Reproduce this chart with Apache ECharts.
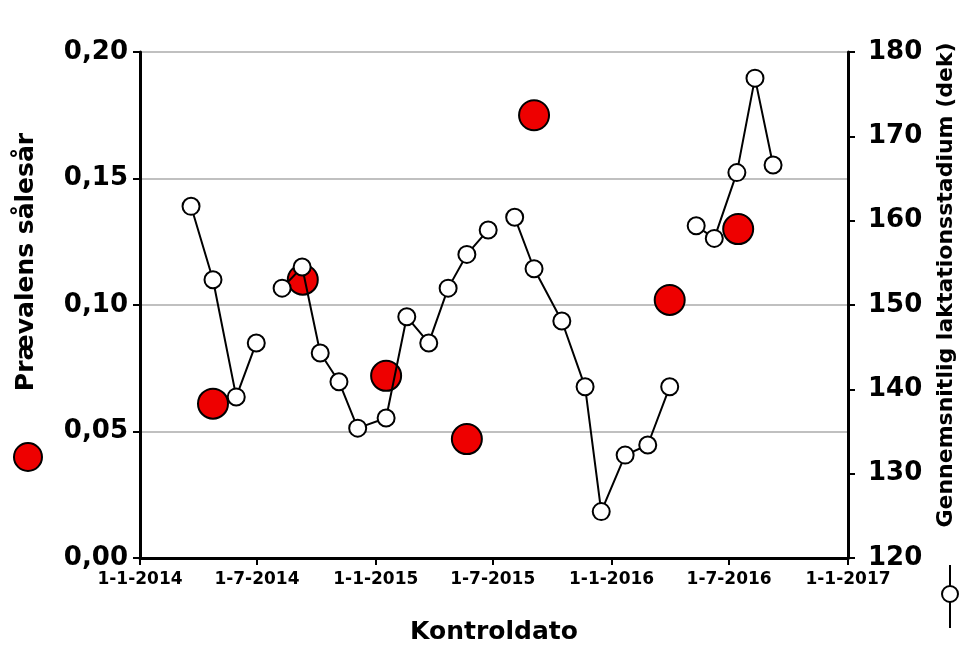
<!DOCTYPE html>
<html>
<head>
<meta charset="utf-8">
<script src="https://cdn.jsdelivr.net/npm/echarts@6/dist/echarts.min.js"></script>
<style>
html, body { margin: 0; padding: 0; background: #fff; }
#chart { width: 968px; height: 654px; }
</style>
</head>
<body>
<div id="chart"></div>
<script>
// Prævalens sålesår (left axis), red dots
var ulcerDates = ['2014-04-24', '2014-09-10', '2015-01-17', '2015-05-22', '2015-09-03', '2016-03-31', '2016-07-15'];
var ulcerValues = [0.061, 0.110, 0.072, 0.047, 0.175, 0.102, 0.130];

// Gennemsnitlig laktationsstadium (right axis), open circles
var lacDates = [
    '2014-03-21', '2014-04-24', '2014-05-30', '2014-06-30',
    '2014-08-09', '2014-09-09', '2014-10-07', '2014-11-05', '2014-12-04', '2015-01-17',
    '2015-02-18', '2015-03-24', '2015-04-23', '2015-05-22', '2015-06-24',
    '2015-08-04', '2015-09-03', '2015-10-16', '2015-11-21', '2015-12-16', '2016-01-22',
    '2016-02-26', '2016-03-31',
    '2016-05-11', '2016-06-08', '2016-07-13', '2016-08-10', '2016-09-07'
];
var lacValues = [
    161.7, 153.0, 139.1, 145.5,
    152.0, 154.5, 144.3, 140.9, 135.4, 136.6,
    148.6, 145.5, 152.0, 156.0, 158.9,
    160.4, 154.3, 148.1, 140.3, 125.5, 132.2,
    133.4, 140.3,
    159.4, 157.9, 165.7, 176.9, 166.6
];
// line is broken before these indices
var lacBreaks = [4, 15, 23];

var xTicks = ['2014-01-01', '2014-07-01', '2015-01-01', '2015-07-01', '2016-01-01', '2016-07-01', '2017-01-01'];

// days since 1-1-2014
function toDay(s) {
    var p = s.split('-');
    return Math.round((Date.UTC(+p[0], +p[1] - 1, +p[2]) - Date.UTC(2014, 0, 1)) / 86400000);
}
function dayLabel(v) {
    var d = new Date(Date.UTC(2014, 0, 1) + v * 86400000);
    return d.getUTCDate() + '-' + (d.getUTCMonth() + 1) + '-' + d.getUTCFullYear();
}

var chart = echarts.init(document.getElementById('chart'));

var segments = [];
var start = 0;
lacBreaks.concat([lacDates.length]).forEach(function (end) {
    var seg = [];
    for (var i = start; i < end; i++) {
        seg.push([toDay(lacDates[i]), lacValues[i]]);
    }
    segments.push(seg);
    start = end;
});

var font = 'DejaVu Sans';
var tickDays = xTicks.map(toDay);

var series = [{
    name: 'Prævalens sålesår',
    type: 'scatter',
    yAxisIndex: 0,
    symbol: 'circle',
    symbolSize: 30,
    z: 2,
    itemStyle: { color: '#ee0000', borderColor: '#000', borderWidth: 2, opacity: 1 },
    data: ulcerDates.map(function (d, i) { return [toDay(d), ulcerValues[i]]; })
}];

segments.forEach(function (seg) {
    series.push({
        name: 'Gennemsnitlig laktationsstadium',
        type: 'line',
        yAxisIndex: 1,
        symbol: 'circle',
        symbolSize: 17,
        showAllSymbol: true,
        z: 3,
        lineStyle: { color: '#000', width: 2 },
        itemStyle: { color: '#fff', borderColor: '#000', borderWidth: 2 },
        data: seg
    });
});

chart.setOption({
    animation: false,
    backgroundColor: '#fff',
    grid: { left: 140, right: 120, top: 52, bottom: 96 },
    xAxis: {
        type: 'value',
        min: tickDays[0],
        max: tickDays[tickDays.length - 1],
        name: 'Kontroldato',
        nameLocation: 'middle',
        nameGap: 62,
        nameTextStyle: { fontFamily: font, fontWeight: 'bold', fontSize: 25, color: '#000' },
        axisLine: { lineStyle: { color: '#000', width: 3 } },
        axisTick: { show: true, length: 7, lineStyle: { color: '#000', width: 2 }, customValues: tickDays },
        splitLine: { show: false },
        axisLabel: {
            customValues: tickDays,
            fontFamily: font, fontWeight: 'bold', fontSize: 17, color: '#000', margin: 13,
            formatter: dayLabel
        }
    },
    yAxis: [{
        type: 'value',
        min: 0,
        max: 0.2,
        interval: 0.05,
        axisLine: { show: true, lineStyle: { color: '#000', width: 3 } },
        axisTick: { show: true, length: 7, lineStyle: { color: '#000', width: 2 } },
        splitLine: { show: true, lineStyle: { color: '#c0c0c0', width: 2 } },
        axisLabel: {
            fontFamily: font, fontWeight: 'bold', fontSize: 26, color: '#000', margin: 12,
            formatter: function (v) { return v.toFixed(2).replace('.', ','); }
        }
    }, {
        type: 'value',
        position: 'right',
        min: 120,
        max: 180,
        interval: 10,
        axisLine: { show: true, lineStyle: { color: '#000', width: 3 } },
        axisTick: { show: true, length: 7, lineStyle: { color: '#000', width: 2 } },
        splitLine: { show: false },
        axisLabel: { fontFamily: font, fontWeight: 'bold', fontSize: 26, color: '#000', margin: 20 }
    }],
    graphic: [{
        type: 'text',
        x: 26, y: 262,
        rotation: Math.PI / 2,
        style: {
            text: 'Prævalens sålesår',
            font: 'bold 25px "DejaVu Sans"',
            fill: '#000',
            align: 'center',
            verticalAlign: 'middle'
        }
    }, {
        type: 'circle',
        shape: { cx: 28, cy: 457, r: 14 },
        style: { fill: '#ee0000', stroke: '#000', lineWidth: 2 }
    }, {
        type: 'text',
        x: 946, y: 285,
        rotation: Math.PI / 2,
        style: {
            text: 'Gennemsnitlig laktationsstadium (dek)',
            font: 'bold 22px "DejaVu Sans"',
            fill: '#000',
            align: 'center',
            verticalAlign: 'middle'
        }
    }, {
        type: 'line',
        shape: { x1: 950, y1: 565, x2: 950, y2: 628 },
        style: { stroke: '#000', lineWidth: 2 }
    }, {
        type: 'circle',
        shape: { cx: 950, cy: 594, r: 8 },
        style: { fill: '#fff', stroke: '#000', lineWidth: 2 }
    }],
    series: series
});
</script>
</body>
</html>
